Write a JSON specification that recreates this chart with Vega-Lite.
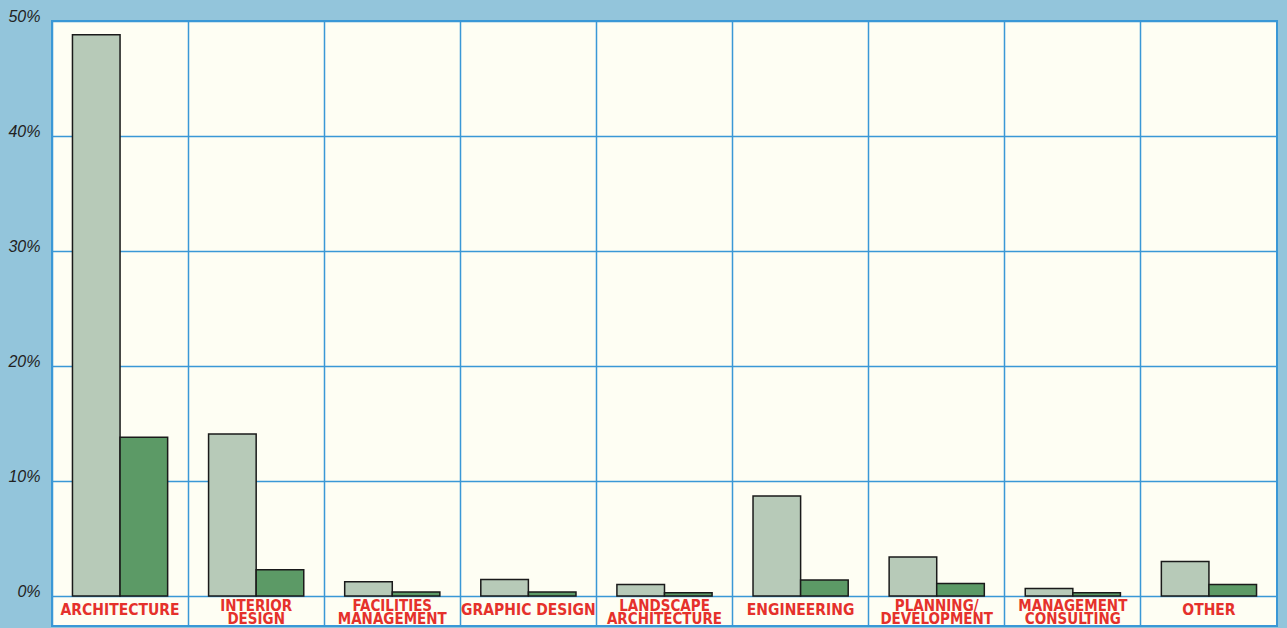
{
  "$schema": "https://vega.github.io/schema/vega-lite/v6.json",
  "width": 1225,
  "height": 605,
  "autosize": {"type": "none"},
  "padding": {"left": 52, "top": 21, "right": 10, "bottom": 2},
  "background": "#93c5db",
  "config": {
    "view": {"fill": "#fefef3", "stroke": "#3a98d6", "strokeWidth": 2}
  },
  "datasets": {
    "bars": [
      {"category": "Architecture", "series": "Group A", "value": 48.8},
      {"category": "Architecture", "series": "Group B", "value": 13.8},
      {"category": "Interior Design", "series": "Group A", "value": 14.1},
      {"category": "Interior Design", "series": "Group B", "value": 2.3},
      {"category": "Facilities Management", "series": "Group A", "value": 1.25},
      {"category": "Facilities Management", "series": "Group B", "value": 0.35},
      {"category": "Graphic Design", "series": "Group A", "value": 1.45},
      {"category": "Graphic Design", "series": "Group B", "value": 0.35},
      {"category": "Landscape Architecture", "series": "Group A", "value": 1.0},
      {"category": "Landscape Architecture", "series": "Group B", "value": 0.3},
      {"category": "Engineering", "series": "Group A", "value": 8.7},
      {"category": "Engineering", "series": "Group B", "value": 1.4},
      {"category": "Planning/Development", "series": "Group A", "value": 3.4},
      {"category": "Planning/Development", "series": "Group B", "value": 1.1},
      {"category": "Management Consulting", "series": "Group A", "value": 0.65},
      {"category": "Management Consulting", "series": "Group B", "value": 0.3},
      {"category": "Other", "series": "Group A", "value": 3.0},
      {"category": "Other", "series": "Group B", "value": 1.0}
    ],
    "labels": [
      {"category": "Architecture", "label": "ARCHITECTURE", "lines": 1},
      {"category": "Interior Design", "label": "INTERIOR\nDESIGN", "lines": 2},
      {"category": "Facilities Management", "label": "FACILITIES\nMANAGEMENT", "lines": 2},
      {"category": "Graphic Design", "label": "GRAPHIC DESIGN", "lines": 1},
      {"category": "Landscape Architecture", "label": "LANDSCAPE\nARCHITECTURE", "lines": 2},
      {"category": "Engineering", "label": "ENGINEERING", "lines": 1},
      {"category": "Planning/Development", "label": "PLANNING/\nDEVELOPMENT", "lines": 2},
      {"category": "Management Consulting", "label": "MANAGEMENT\nCONSULTING", "lines": 2},
      {"category": "Other", "label": "OTHER", "lines": 1}
    ]
  },
  "encoding": {
    "x": {
      "field": "category",
      "type": "nominal",
      "sort": null,
      "scale": {"paddingInner": 0, "paddingOuter": 0,
        "domain": ["Architecture", "Interior Design", "Facilities Management", "Graphic Design", "Landscape Architecture", "Engineering", "Planning/Development", "Management Consulting", "Other"]},
      "axis": {
        "title": null,
        "labels": false,
        "ticks": false,
        "domain": false,
        "grid": true,
        "bandPosition": 0,
        "gridColor": "#3a98d6",
        "gridWidth": 1.5,
        "gridOpacity": 1
      }
    }
  },
  "layer": [
    {
      "data": {"name": "bars"},
      "mark": {"type": "bar", "stroke": "#1a1a1a", "strokeWidth": 1.5},
      "encoding": {
        "xOffset": {"field": "series", "type": "nominal", "scale": {"paddingInner": 0, "paddingOuter": 0.43}},
        "y": {
          "field": "value",
          "type": "quantitative",
          "scale": {"domain": [-2.6, 50], "nice": false, "zero": false},
          "axis": {
            "title": null,
            "values": [0, 10, 20, 30, 40, 50],
            "labelExpr": "datum.value + '%'",
            "labelFont": "Liberation Sans",
            "labelFontStyle": "italic",
            "labelFontSize": 16,
            "labelColor": "#222222",
            "labelBaseline": "alphabetic",
            "labelPadding": 12,
            "ticks": false,
            "domain": false,
            "grid": true,
            "gridColor": "#3a98d6",
            "gridWidth": 1.5,
            "gridOpacity": 1
          }
        },
        "color": {
          "field": "series",
          "type": "nominal",
          "scale": {"domain": ["Group A", "Group B"], "range": ["#b7cab8", "#5c9a66"]},
          "legend": null
        }
      }
    },
    {
      "data": {"name": "labels"},
      "transform": [{"filter": "datum.lines == 1"}],
      "mark": {
        "type": "text",
        "font": "DejaVu Sans Condensed, Roboto, sans-serif",
        "fontWeight": "bold",
        "fontSize": 15.5,
        "color": "#e5312b",
        "baseline": "middle",
        "align": "center"
      },
      "encoding": {
        "y": {"datum": -1.22, "type": "quantitative"},
        "text": {"field": "label"}
      }
    },
    {
      "data": {"name": "labels"},
      "transform": [{"filter": "datum.lines == 2"}],
      "mark": {
        "type": "text",
        "font": "DejaVu Sans Condensed, Roboto, sans-serif",
        "fontWeight": "bold",
        "fontSize": 15,
        "color": "#e5312b",
        "lineBreak": "\n",
        "lineHeight": 13.5,
        "baseline": "middle",
        "align": "center"
      },
      "encoding": {
        "y": {"datum": -0.86, "type": "quantitative"},
        "text": {"field": "label"}
      }
    }
  ]
}
